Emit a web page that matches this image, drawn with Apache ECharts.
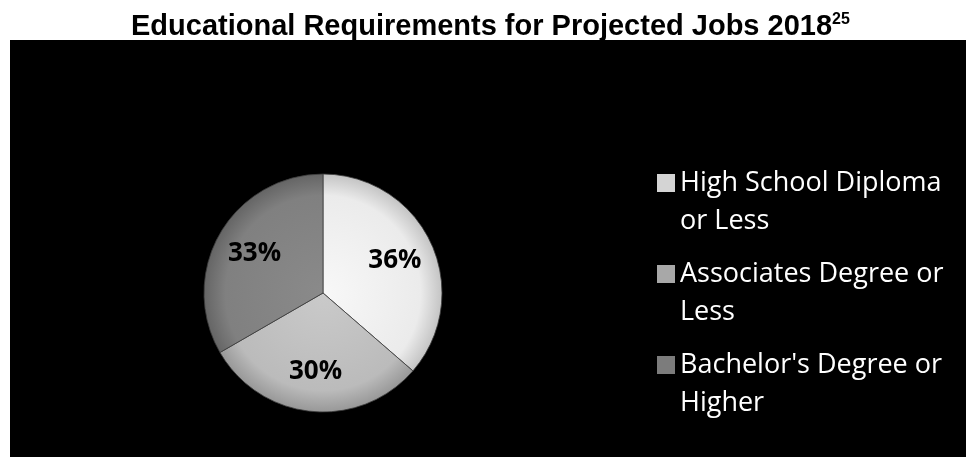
<!DOCTYPE html>
<html>
<head>
<meta charset="utf-8">
<script src="https://cdn.jsdelivr.net/npm/echarts@6/dist/echarts.min.js"></script>
<style>
html,body{margin:0;padding:0;background:#fff;}
#chart{width:966px;height:457px;}
</style>
</head>
<body>
<div id="chart"></div>
<script>
const categories = ['High School Diploma\nor Less', 'Associates Degree or\nLess', "Bachelor's Degree or\nHigher"];
const values = [36, 30, 33];
const titleText = 'Educational Requirements for Projected Jobs 2018';
const titleSup = '25';

const sliceStyles = [
  {stops: ['#f8f8f8', '#ebebeb', '#c4c4c4']},
  {stops: ['#cacaca', '#bbbbbb', '#989898']},
  {stops: ['#8a8a8a', '#808080', '#656565']}
];
const legendColors = ['#d4d4d4', '#a8a8a8', '#7c7c7c'];

function grad(s) {
  return {
    type: 'radial', x: 323, y: 293, r: 119, global: true,
    colorStops: [{offset: 0, color: s.stops[0]}, {offset: 0.82, color: s.stops[1]}, {offset: 1, color: s.stops[2]}]
  };
}

const chart = echarts.init(document.getElementById('chart'));
const iconPath = 'path://M0,0 L0.01,0 M0,10 L18,10 L18,28 L0,28 Z M0,76 L0.01,76';

chart.setOption({
  backgroundColor: '#fff',
  animation: false,
  title: {
    text: titleText + '{sup|' + titleSup + '}',
    left: 126, top: 7,
    textStyle: {
      fontFamily: 'Liberation Sans', fontWeight: 'bold', fontSize: 29, color: '#000',
      rich: {sup: {fontFamily: 'Liberation Sans', fontWeight: 'bold', fontSize: 16, color: '#000', verticalAlign: 'top', padding: [0, 0, 14, 0]}}
    }
  },
  graphic: [{
    type: 'rect', left: 10, top: 40, z: -10, silent: true,
    shape: {width: 956, height: 417}, style: {fill: '#000'}
  }],
  legend: {
    orient: 'vertical', left: 652, top: 159, itemGap: 15,
    itemWidth: 18, itemHeight: 76, icon: iconPath,
    textStyle: {color: '#fff', fontFamily: 'Open Sans', fontSize: 27, lineHeight: 38},
    data: categories.map((c, i) => ({name: c, itemStyle: {color: legendColors[i], borderWidth: 0}}))
  },
  series: [{
    type: 'pie', center: [323, 293], radius: 119, startAngle: 90, clockwise: true,
    silent: true,
    data: categories.map((c, i) => ({name: c, value: values[i], itemStyle: {color: grad(sliceStyles[i])}})),
    itemStyle: {borderColor: 'rgba(60,60,60,0.8)', borderWidth: 1},
    label: {show: false}, labelLine: {show: false}
  }, {
    type: 'pie', center: [323, 293], radius: 152, startAngle: 90, clockwise: true,
    silent: true, z: 5,
    data: categories.map((c, i) => ({name: c, value: values[i]})),
    itemStyle: {color: 'transparent', borderWidth: 0},
    label: {
      show: true, position: 'inside',
      formatter: p => p.value + '%',
      fontFamily: 'Open Sans', fontWeight: 'bold', fontSize: 26, color: '#000'
    },
    labelLine: {show: false}
  }]
});
</script>
</body>
</html>
